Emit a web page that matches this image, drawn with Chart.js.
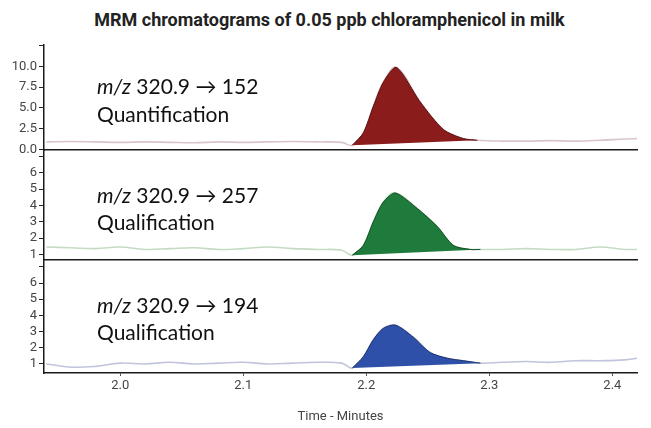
<!DOCTYPE html>
<html>
<head>
<meta charset="utf-8">
<title>MRM chromatograms</title>
<script src="https://cdn.jsdelivr.net/npm/chart.js@4.4.0/dist/chart.umd.min.js"></script>
<style>
  body { margin: 0; background: #fff; width: 651px; height: 428px; position: relative; overflow: hidden; font-family: Roboto, sans-serif; }
  .title { position: absolute; top: 9px; left: 4px; width: 651px; text-align: center; font-weight: bold; font-size: 18px; color: #222; }
  .panel { position: absolute; left: 0; width: 651px; }
</style>
</head>
<body>
<div class="title">MRM chromatograms of 0.05 ppb chloramphenicol in milk</div>
<div class="panel" style="top:30px;height:130px"><canvas id="quant"></canvas></div>
<div class="panel" style="top:140px;height:130px"><canvas id="qual1"></canvas></div>
<div class="panel" style="top:250px;height:178px"><canvas id="qual2"></canvas></div>

<script>
// x axis (minutes)
const xTicks = [2.0, 2.1, 2.2, 2.3, 2.4];
const xLabels = ['2.0', '2.1', '2.2', '2.3', '2.4'];

// m/z 320.9 -> 152 (quantification)
const quantTime = [1.94, 1.96, 1.98, 2.00, 2.02, 2.04, 2.06, 2.08, 2.10, 2.12, 2.14, 2.16, 2.18, 2.1886,
  2.1976, 2.2057, 2.2138, 2.2244, 2.2439, 2.2626, 2.2789, 2.2902,
  2.31, 2.33, 2.35, 2.37, 2.39, 2.41, 2.42];
const quantSignal = [0.9, 0.95, 0.9, 0.85, 0.9, 0.85, 0.8, 0.9, 0.85, 0.9, 0.95, 0.9, 0.85, 0.5,
  2.0, 5.2, 8.1, 9.9, 5.7, 2.4, 1.3, 1.1,
  1.0, 1.0, 1.05, 1.0, 1.1, 1.25, 1.3];
const quantPeak = [2.1886, 2.2902];
const quantTicks = [0, 2.5, 5, 7.5, 10, 12.5];
const quantTickLabels = ['0.0', '2.5', '5.0', '7.5', '10.0', ''];

// m/z 320.9 -> 257 (qualification)
const qual1Time = [1.94, 1.96, 1.98, 2.00, 2.02, 2.04, 2.06, 2.08, 2.10, 2.12, 2.14, 2.16, 2.18, 2.1886,
  2.1976, 2.2057, 2.2138, 2.2236, 2.2415, 2.2577, 2.2707, 2.2846, 2.2927,
  2.31, 2.33, 2.35, 2.37, 2.39, 2.41, 2.42];
const qual1Signal = [1.45, 1.4, 1.35, 1.45, 1.3, 1.35, 1.4, 1.3, 1.35, 1.45, 1.35, 1.3, 1.25, 0.95,
  1.55, 3.0, 4.2, 4.76, 3.8, 2.7, 1.55, 1.3, 1.3,
  1.3, 1.35, 1.3, 1.3, 1.45, 1.3, 1.3];
const qual1Peak = [2.1886, 2.2927];

// m/z 320.9 -> 194 (qualification)
const qual2Time = [1.94, 1.96, 1.98, 2.00, 2.02, 2.04, 2.06, 2.08, 2.10, 2.12, 2.14, 2.16, 2.18, 2.1886,
  2.1976, 2.2057, 2.2138, 2.2236, 2.2382, 2.2520, 2.2659, 2.2789, 2.2927,
  2.31, 2.33, 2.35, 2.37, 2.39, 2.41, 2.42];
const qual2Signal = [1.0, 0.8, 0.85, 1.05, 1.0, 1.1, 1.0, 1.05, 1.1, 1.0, 1.05, 1.1, 1.05, 0.75,
  1.45, 2.5, 3.2, 3.4, 2.65, 1.7, 1.35, 1.2, 1.05,
  1.1, 1.15, 1.1, 1.2, 1.2, 1.25, 1.35];
const qual2Peak = [2.1886, 2.2927];

const qualTicks = [1, 2, 3, 4, 5, 6, 7];
const qualTickLabels = ['1', '2', '3', '4', '5', '6', ''];

const AXIS_FONT = { family: 'Roboto', size: 13 };

// draws the "m/z ... -> ..." note and the second line
const transitionNote = {
  id: 'transitionNote',
  afterDraw(chart, args, opts) {
    const ctx = chart.ctx;
    const x = chart.chartArea.left + opts.dx;
    const y1 = chart.chartArea.top + opts.dy1;
    const y2 = chart.chartArea.top + opts.dy2;
    ctx.save();
    ctx.fillStyle = '#111';
    ctx.textBaseline = 'middle';
    ctx.font = 'italic 21px Lato, sans-serif';
    ctx.fillText('m/z', x, y1);
    const w = ctx.measureText('m/z').width;
    ctx.font = '21px Lato, sans-serif';
    ctx.fillText(' ' + opts.line1, x + w, y1);
    ctx.fillText(opts.line2, x, y2);
    ctx.restore();
  }
};

function toPoints(times, values) {
  return times.map((t, i) => ({ x: t, y: values[i] }));
}

function makePanel(id, p) {
  const trace = toPoints(p.time, p.signal);
  const peak = trace.filter(pt => pt.x >= p.peak[0] && pt.x <= p.peak[1]);
  const bottom = p.showX;

  return new Chart(document.getElementById(id), {
    type: 'line',
    data: {
      datasets: [
        {
          // integrated peak, drawn on top
          data: peak,
          order: 0,
          borderColor: p.edgeColor,
          backgroundColor: p.fillColor,
          borderWidth: 1,
          pointRadius: 0,
          tension: 0.25,
          fill: 'shape'
        },
        {
          data: trace,
          order: 1,
          borderColor: p.traceColor,
          borderWidth: 1.6,
          pointRadius: 0,
          tension: 0.4,
          fill: false
        }
      ]
    },
    options: {
      responsive: true,
      maintainAspectRatio: false,
      animation: false,
      layout: { padding: { top: p.padTop, bottom: p.padBottom, left: 0, right: 14 } },
      plugins: {
        legend: { display: false },
        tooltip: { enabled: false },
        transitionNote: p.note
      },
      scales: {
        x: {
          type: 'linear',
          min: 1.938,
          max: 2.42,
          afterBuildTicks: s => { s.ticks = xTicks.map(v => ({ value: v })); },
          afterFit: s => { s.height = bottom ? 52 : 0; },
          border: { display: true, color: '#1a1a1a', width: 1.5 },
          grid: { display: bottom, drawOnChartArea: false, drawTicks: true, tickLength: 3, color: '#555' },
          ticks: {
            display: bottom,
            autoSkip: false,
            padding: 2,
            maxRotation: 0,
            font: AXIS_FONT,
            color: '#444',
            callback: (v, i) => xLabels[i]
          },
          title: {
            display: bottom,
            text: 'Time - Minutes',
            color: '#444',
            font: { family: 'Roboto', size: 13 },
            padding: 0
          }
        },
        y: {
          min: p.yMin,
          max: p.yMax,
          afterBuildTicks: s => { s.ticks = p.ticks.map(v => ({ value: v })); },
          afterFit: s => { s.width = 44; },
          border: { display: true, color: '#1a1a1a', width: 1.5 },
          grid: { display: true, drawOnChartArea: false, drawTicks: true, tickLength: 5, color: '#222' },
          ticks: {
            autoSkip: false,
            padding: 2,
            font: AXIS_FONT,
            color: '#444',
            callback: (v, i) => p.tickLabels[i]
          }
        }
      }
    },
    plugins: [transitionNote]
  });
}

makePanel('quant', {
  time: quantTime, signal: quantSignal, peak: quantPeak,
  ticks: quantTicks, tickLabels: quantTickLabels,
  yMin: -0.1, yMax: 12.6,
  traceColor: '#d9c6cb', fillColor: '#8b1c1c', edgeColor: '#5a1010',
  padTop: 15, padBottom: 9, showX: false,
  note: { dx: 53, dy1: 42, dy2: 70, line1: '320.9 \u2192 152', line2: 'Quantification' }
});

makePanel('qual1', {
  time: qual1Time, signal: qual1Signal, peak: qual1Peak,
  ticks: qualTicks, tickLabels: qualTickLabels,
  yMin: 0.64, yMax: 7.33,
  traceColor: '#c3dcc3', fillColor: '#1e7b3b', edgeColor: '#124d25',
  padTop: 11, padBottom: 8, showX: false,
  note: { dx: 53, dy1: 45, dy2: 72, line1: '320.9 \u2192 257', line2: 'Qualification' }
});

makePanel('qual2', {
  time: qual2Time, signal: qual2Signal, peak: qual2Peak,
  ticks: qualTicks, tickLabels: qualTickLabels,
  yMin: 0.44, yMax: 7.3,
  traceColor: '#c2c4de', fillColor: '#2f50a8', edgeColor: '#1c3170',
  padTop: 12, padBottom: 3, showX: true,
  note: { dx: 53, dy1: 44, dy2: 71, line1: '320.9 \u2192 194', line2: 'Qualification' }
});
</script>
</body>
</html>
